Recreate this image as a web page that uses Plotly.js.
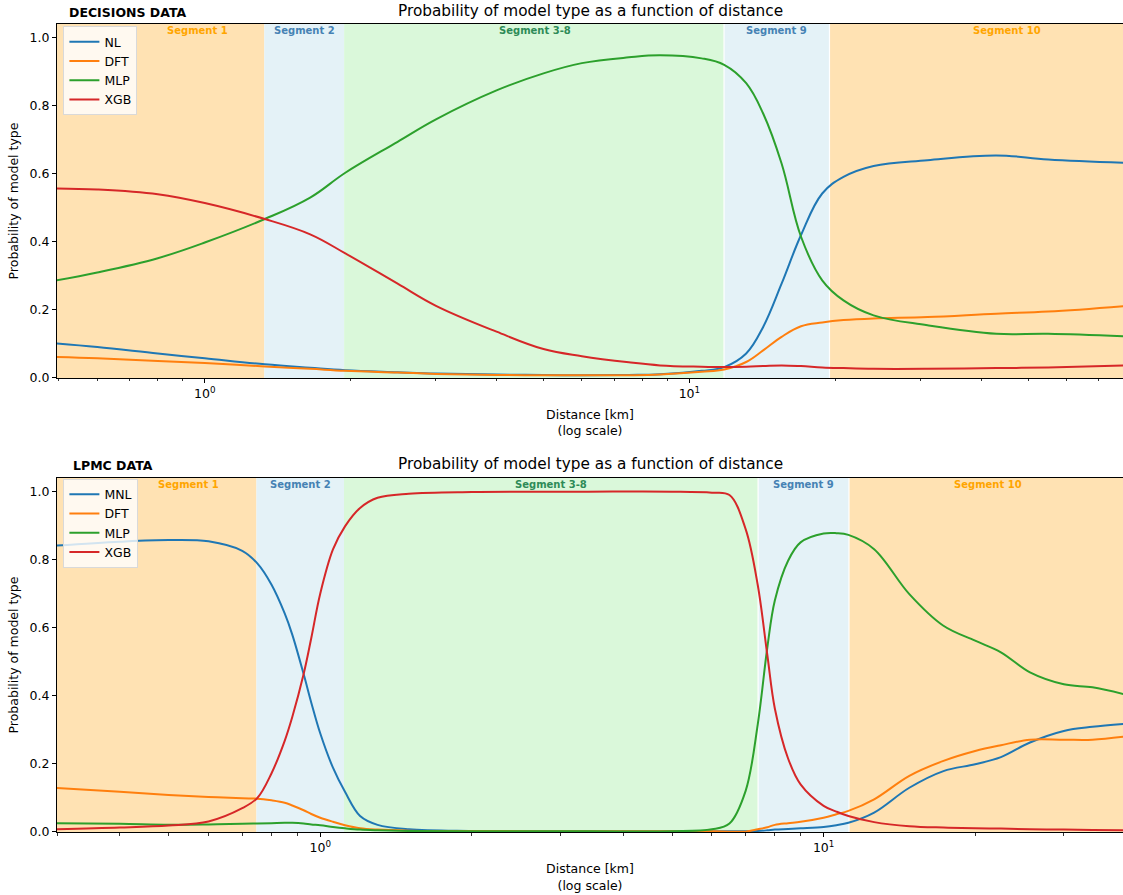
<!DOCTYPE html>
<html>
<head>
<meta charset="utf-8">
<script src="https://cdn.plot.ly/plotly-3.0.1.min.js"></script>
<style>html,body{margin:0;padding:0;background:#fff}#chart{width:1123px;height:895px}</style>
</head>
<body>
<div id="chart"></div>
<script>
// ---------------- DATA ----------------
const seriesNamesTop = ['NL', 'DFT', 'MLP', 'XGB'];
const seriesNamesBottom = ['MNL', 'DFT', 'MLP', 'XGB'];
const segmentNames = ['Segment 1', 'Segment 2', 'Segment 3-8', 'Segment 9', 'Segment 10'];

// DECISIONS data (top)
const distTop = [0.49, 0.6, 0.8, 1.0, 1.33, 1.65, 1.95, 2.5, 3.0, 4.0, 5.0, 6.0, 7.5, 8.7, 10.6, 11.8, 13.1, 14.2, 15.5, 17.0, 18.8, 20.8, 24.0, 31.0, 43.0, 55.0, 80.0];
const nlTop  = [0.102, 0.091, 0.072, 0.058, 0.040, 0.030, 0.023, 0.017, 0.013, 0.010, 0.009, 0.008, 0.009, 0.011, 0.021, 0.032, 0.072, 0.150, 0.277, 0.420, 0.542, 0.591, 0.623, 0.640, 0.654, 0.642, 0.632];
const dftTop = [0.062, 0.058, 0.050, 0.044, 0.034, 0.027, 0.021, 0.016, 0.012, 0.009, 0.008, 0.008, 0.008, 0.010, 0.018, 0.025, 0.047, 0.081, 0.121, 0.152, 0.163, 0.170, 0.175, 0.179, 0.189, 0.195, 0.212];
const mlpTop = [0.286, 0.310, 0.352, 0.398, 0.467, 0.530, 0.603, 0.694, 0.760, 0.845, 0.895, 0.925, 0.942, 0.948, 0.939, 0.920, 0.866, 0.777, 0.630, 0.415, 0.287, 0.228, 0.184, 0.155, 0.130, 0.130, 0.122];
const xgbTop = [0.557, 0.554, 0.540, 0.514, 0.467, 0.422, 0.366, 0.277, 0.212, 0.136, 0.085, 0.064, 0.046, 0.037, 0.033, 0.032, 0.033, 0.035, 0.037, 0.035, 0.031, 0.029, 0.027, 0.027, 0.029, 0.031, 0.037];
const segEdgesTop = [1.327, 1.939, 11.79, 19.46];

// LPMC data (bottom)
const distBottom = [0.295, 0.4, 0.5, 0.6, 0.7, 0.75, 0.8, 0.85, 0.88, 0.927, 0.96, 1.0, 1.06, 1.12, 1.2, 1.3, 1.5, 2.0, 3.4, 5.0, 6.0, 6.5, 7.0, 7.4, 7.73, 8.0, 8.5, 9.0, 10.0, 10.6, 11.2, 12.6, 14.8, 17.3, 20.0, 22.5, 25.7, 30.0, 34.2, 40.0];
const mnlBottom = [0.841, 0.853, 0.858, 0.854, 0.826, 0.789, 0.727, 0.642, 0.580, 0.464, 0.380, 0.290, 0.189, 0.118, 0.047, 0.021, 0.008, 0.003, 0.002, 0.002, 0.002, 0.002, 0.002, 0.003, 0.005, 0.007, 0.009, 0.011, 0.015, 0.020, 0.027, 0.057, 0.130, 0.179, 0.199, 0.220, 0.263, 0.297, 0.309, 0.318];
const dftBottom = [0.130, 0.118, 0.109, 0.103, 0.099, 0.098, 0.093, 0.086, 0.078, 0.064, 0.053, 0.042, 0.030, 0.020, 0.011, 0.007, 0.004, 0.003, 0.002, 0.002, 0.002, 0.001, 0.001, 0.008, 0.014, 0.021, 0.026, 0.030, 0.042, 0.052, 0.062, 0.096, 0.165, 0.209, 0.238, 0.255, 0.271, 0.271, 0.271, 0.281];
const mlpBottom = [0.026, 0.024, 0.021, 0.022, 0.024, 0.025, 0.026, 0.027, 0.027, 0.025, 0.022, 0.020, 0.015, 0.011, 0.007, 0.005, 0.003, 0.002, 0.002, 0.002, 0.008, 0.025, 0.121, 0.317, 0.542, 0.680, 0.797, 0.851, 0.877, 0.878, 0.873, 0.831, 0.699, 0.606, 0.562, 0.528, 0.469, 0.434, 0.425, 0.403];
const xgbBottom = [0.008, 0.013, 0.019, 0.031, 0.070, 0.100, 0.172, 0.268, 0.338, 0.464, 0.570, 0.700, 0.830, 0.898, 0.952, 0.982, 0.994, 0.999, 1.0, 1.0, 0.997, 0.990, 0.890, 0.725, 0.520, 0.363, 0.216, 0.140, 0.077, 0.060, 0.047, 0.029, 0.017, 0.013, 0.011, 0.010, 0.008, 0.007, 0.006, 0.005];
const segEdgesBottom = [0.747, 1.115, 7.41, 11.23];

const yTickVals = [0, 0.2, 0.4, 0.6, 0.8, 1.0];
const xTickVals = [1, 10];
const xTickText = ['10<sup>0</sup>', '10<sup>1</sup>'];

// ---------------- STYLE / LAYOUT ----------------
const colors = ['#1f77b4', '#ff7f0e', '#2ca02c', '#d62728'];
const segFill = ['#FFE2B3', '#E4F2F7', '#DAF8DA', '#E4F2F7', '#FFE2B3'];
const segLabelColor = ['#FFA500', '#4682B4', '#2E8B57', '#4682B4', '#FFA500'];
const FONT = 'DejaVu Sans, sans-serif';

const rangeTop = [0.4955, 78.5];
const rangeBottom = [0.300, 39.33];
const labelPosTop = [0.9645, 1.604, 4.80, 15.15, 45.3];
const labelPosBottom = [0.547, 0.913, 2.871, 9.13, 21.2];

function minorTicks(lo, hi) {
  const out = [];
  for (let e = -2; e <= 3; e++) {
    for (let m = 2; m <= 9; m++) {
      const v = m * Math.pow(10, e);
      if (v >= lo && v <= hi) out.push(v);
    }
  }
  return out;
}

const traces = [];
[nlTop, dftTop, mlpTop, xgbTop].forEach((ys, i) => {
  traces.push({x: distTop, y: ys, name: seriesNamesTop[i], type: 'scatter', mode: 'lines',
    line: {color: colors[i], width: 2, shape: 'spline', smoothing: 1.1},
    xaxis: 'x', yaxis: 'y', legend: 'legend', hoverinfo: 'skip'});
});
[mnlBottom, dftBottom, mlpBottom, xgbBottom].forEach((ys, i) => {
  traces.push({x: distBottom, y: ys, name: seriesNamesBottom[i], type: 'scatter', mode: 'lines',
    line: {color: colors[i], width: 2, shape: 'spline', smoothing: 1.0},
    xaxis: 'x2', yaxis: 'y2', legend: 'legend2', hoverinfo: 'skip'});
});

const shapes = [];
const annotations = [];
function addSegments(edges, range, labelPos, xref, yref) {
  const b = [range[0]].concat(edges, [range[1]]);
  for (let i = 0; i < segmentNames.length; i++) {
    // Plotly v3: shapes on log axes take data values directly
    shapes.push({type: 'rect', xref: xref, yref: yref + ' domain', layer: 'below',
      x0: b[i], x1: b[i + 1], y0: 0, y1: 1,
      fillcolor: segFill[i], line: {width: 0}});
    annotations.push({xref: xref, yref: yref, x: Math.log10(labelPos[i]), y: 1.021,
      text: '<b>' + segmentNames[i] + '</b>', showarrow: false, xanchor: 'center', yanchor: 'middle',
      font: {family: FONT, size: 10, color: segLabelColor[i]}});
  }
  // thin white seams between the later segments
  [edges[2], edges[3]].forEach(e => {
    shapes.push({type: 'line', xref: xref, yref: yref + ' domain', layer: 'below',
      x0: e, x1: e, y0: 0, y1: 1, line: {color: '#ffffff', width: 1.2}});
  });
}
addSegments(segEdgesTop, rangeTop, labelPosTop, 'x', 'y');
addSegments(segEdgesBottom, rangeBottom, labelPosBottom, 'x2', 'y2');

// panel titles and headers
annotations.push({xref: 'paper', yref: 'paper', x: 0.5, y: 1.0155, xanchor: 'center', yanchor: 'middle',
  text: 'Probability of model type as a function of distance', showarrow: false,
  font: {family: FONT, size: 15.3, color: '#000'}});
annotations.push({xref: 'paper', yref: 'paper', x: 0.5, y: 0.4555, xanchor: 'center', yanchor: 'middle',
  text: 'Probability of model type as a function of distance', showarrow: false,
  font: {family: FONT, size: 15.3, color: '#000'}});
annotations.push({xref: 'paper', yref: 'paper', x: 0.0095, y: 1.0148, xanchor: 'left', yanchor: 'middle',
  text: '<b>DECISIONS DATA</b>', showarrow: false, font: {family: FONT, size: 12.5, color: '#000'}});
annotations.push({xref: 'paper', yref: 'paper', x: 0.0132, y: 0.4535, xanchor: 'left', yanchor: 'middle',
  text: '<b>LPMC DATA</b>', showarrow: false, font: {family: FONT, size: 12.5, color: '#000'}});

function xAxis(range, anchor) {
  return {type: 'log', range: [Math.log10(range[0]), Math.log10(range[1])], anchor: anchor,
    tickmode: 'array', tickvals: xTickVals, ticktext: xTickText,
    ticks: 'outside', ticklen: 4, tickwidth: 1, tickcolor: '#000',
    minor: {tickmode: 'array', tickvals: minorTicks(range[0], range[1]), ticks: 'outside', ticklen: 2.5, tickwidth: 0.8, tickcolor: '#000', showgrid: false},
    showline: true, linecolor: '#000', linewidth: 1, mirror: true,
    showgrid: false, zeroline: false,
    tickfont: {family: FONT, size: 12.5, color: '#000'},
    title: {text: 'Distance [km]<br>(log scale)', font: {family: FONT, size: 12.5, color: '#000'}, standoff: 10}};
}
function yAxis(domain, anchor) {
  return {domain: domain, anchor: anchor, range: [0, 1.04],
    tickmode: 'array', tickvals: yTickVals, tickformat: '.1f',
    ticks: 'outside', ticklen: 4, tickwidth: 1, tickcolor: '#000',
    showline: true, linecolor: '#000', linewidth: 1, mirror: true,
    showgrid: false, zeroline: false,
    tickfont: {family: FONT, size: 12.5, color: '#000'},
    title: {text: 'Probability of model type', font: {family: FONT, size: 12.5, color: '#000'}, standoff: 8}};
}

const legendStyle = {bgcolor: 'rgba(255,255,255,0.8)', bordercolor: '#d9d9d9', borderwidth: 1,
  font: {family: FONT, size: 12.5, color: '#000'}, xanchor: 'left', yanchor: 'top', tracegroupgap: 0};

const layout = {
  width: 1123, height: 895,
  margin: {l: 57, r: 0, t: 24, b: 63},
  paper_bgcolor: '#fff', plot_bgcolor: '#fff',
  font: {family: FONT, size: 12.5, color: '#000'},
  showlegend: true,
  xaxis: xAxis(rangeTop, 'y'),
  yaxis: yAxis([0.5619, 1], 'x'),
  xaxis2: xAxis(rangeBottom, 'y2'),
  yaxis2: yAxis([0, 0.4381], 'x2'),
  legend: Object.assign({x: 0.006, y: 0.9975}, legendStyle),
  legend2: Object.assign({x: 0.006, y: 0.4372}, legendStyle),
  shapes: shapes,
  annotations: annotations
};

Plotly.newPlot('chart', traces, layout, {displayModeBar: false, staticPlot: true});
</script>
</body>
</html>
